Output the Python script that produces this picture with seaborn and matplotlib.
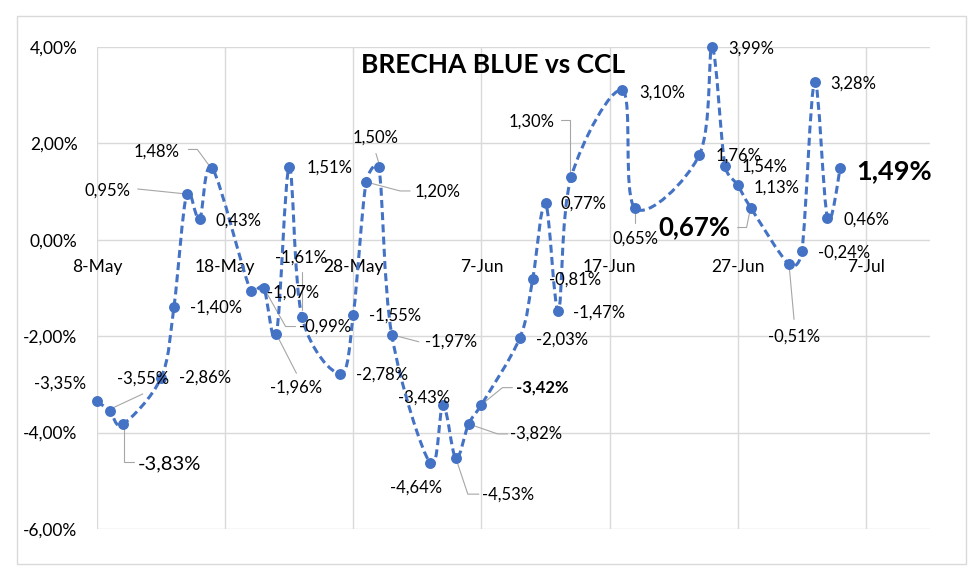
import pandas as pd
import numpy as np
import matplotlib.pyplot as plt
import matplotlib.dates as mdates
import seaborn as sns
from matplotlib.path import Path
from matplotlib.patches import PathPatch, Rectangle
from matplotlib.ticker import FuncFormatter

# fechas habiles (2019) y brecha blue vs CCL en %
fechas = ["2019-05-08", "2019-05-09", "2019-05-10", "2019-05-13", "2019-05-14",
          "2019-05-15", "2019-05-16", "2019-05-17", "2019-05-20", "2019-05-21",
          "2019-05-22", "2019-05-23", "2019-05-24", "2019-05-27", "2019-05-28",
          "2019-05-29", "2019-05-30", "2019-05-31", "2019-06-03", "2019-06-04",
          "2019-06-05", "2019-06-06", "2019-06-07", "2019-06-10", "2019-06-11",
          "2019-06-12", "2019-06-13", "2019-06-14", "2019-06-18", "2019-06-19",
          "2019-06-24", "2019-06-25", "2019-06-26", "2019-06-27", "2019-06-28",
          "2019-07-01", "2019-07-02", "2019-07-03", "2019-07-04", "2019-07-05"]
brecha = [-3.35, -3.55, -3.83, -2.86, -1.40, 0.95, 0.43, 1.48, -1.07, -0.99,
          -1.96, 1.51, -1.61, -2.78, -1.55, 1.20, 1.50, -1.97, -4.64, -3.43,
          -4.53, -3.82, -3.42, -2.03, -0.81, 0.77, -1.47, 1.30, 3.10, 0.65,
          1.76, 3.99, 1.54, 1.13, 0.67, -0.51, -0.24, 3.28, 0.46, 1.49]
xticks = ["2019-05-08", "2019-05-18", "2019-05-28", "2019-06-07",
          "2019-06-17", "2019-06-27", "2019-07-07"]
yticks = [-6, -4, -2, 0, 2, 4]
titulo = "BRECHA BLUE vs CCL"

# posicion de etiquetas (pixeles respecto del punto, y hacia abajo)
lab_off = [(-37, -18), (33, -32), (47, 39), (44, 0), (42, 0), (-79, -3), (39, 2),
           (-56, -17), (42, 1), (61, 39), (20, 53), (40, 1), (-1, -60), (42, 1),
           (42, 1), (71, 10), (-3, -30), (59, 7), (-14, 24), (-19, -8), (52, 36),
           (67, 10), (61, -17), (42, 2), (42, 1), (38, 1), (41, 2), (-40, -56),
           (40, 2), (0, 30), (39, 1), (39, 1), (40, 1), (39, 2), (-56, 20),
           (5, 72), (42, 1), (39, 2), (39, 2), (54, 3)]
leaders = {1: [(3, -3), (33, -17)],
           2: [(1, 1), (1, 38), (11, 38)],
           5: [(-49, -5), (0, 0)],
           7: [(-24, -19), (-15, -19), (-1, 0)],
           9: [(0, 0), (22, 39), (32, 39)],
           10: [(0, 0), (20, 39)],
           12: [(0, -45), (0, -7)],
           15: [(0, 0), (34, 9), (44, 9)],
           16: [(-3, -14), (0, -4)],
           17: [(0, 0), (27, 7)],
           20: [(0, 0), (12, 36), (23, 36)],
           21: [(0, 0), (29, 10), (39, 10)],
           22: [(0, 0), (21, -17), (31, -17)],
           27: [(-10, -57), (-1, -57), (-1, -1)],
           29: [(0, 4), (0, 15)],
           34: [(0, 0), (-4, 20), (-13, 20)],
           35: [(0, 0), (5, 55)]}
lab_style = {2: (14.5, "normal"), 22: (12, "bold"),
             34: (18.5, "bold"), 39: (19.5, "bold")}

sns.set_style("white")
plt.rcParams["font.family"] = ["Lato", "DejaVu Sans"]
azul = "#4472C4"
gris = "#d9d9d9"

df = pd.DataFrame({"fecha": pd.to_datetime(fechas), "brecha": brecha})

fig = plt.figure(figsize=(9.8, 5.81), dpi=100)
ax = fig.add_axes([97 / 980, 1 - 529 / 581, (930 - 97) / 980, (529 - 47) / 581])
fig.patches.append(Rectangle((17 / 980, 1 - 564 / 581), (966 - 17) / 980, (564 - 16) / 581,
                             transform=fig.transFigure, fill=False, edgecolor=gris, lw=1))

sns.scatterplot(data=df, x="fecha", y="brecha", ax=ax, color=azul, s=62,
                edgecolor=azul, linewidth=0, zorder=4, legend=False, clip_on=False)

ax.set_xlim(pd.Timestamp("2019-05-08"), pd.Timestamp("2019-07-12"))
ax.set_ylim(-6, 4)
ax.set_xticks(pd.to_datetime(xticks))
ax.xaxis.set_major_formatter(mdates.DateFormatter("%-d-%b"))
ax.set_yticks(yticks)
ax.yaxis.set_major_formatter(FuncFormatter(lambda v, p: f"{v:.2f}%".replace(".", ",")))
ax.grid(True, color=gris, lw=1)
for s in ax.spines.values():
    s.set_visible(False)
ax.spines["bottom"].set_position(("data", 0))
ax.tick_params(axis="x", length=0, pad=14, labelsize=12.5, labelcolor="black")
ax.tick_params(axis="y", length=0, pad=14, labelsize=12.5, labelcolor="black")
ax.set_xlabel("")
ax.set_ylabel("")

# linea suavizada tipo Excel (bezier, manijas limitadas a media distancia)
pts = ax.transData.transform(np.column_stack([mdates.date2num(df.fecha), df.brecha]))
n = len(pts)
verts = [pts[0]]
codes = [Path.MOVETO]
for i in range(n - 1):
    p0, p1 = pts[max(i - 1, 0)], pts[i]
    p2, p3 = pts[i + 1], pts[min(i + 2, n - 1)]
    seg = np.hypot(*(p2 - p1))
    t1, t2 = p2 - p0, p3 - p1
    l1 = min(np.hypot(*t1) / 6, seg / 2)
    l2 = min(np.hypot(*t2) / 6, seg / 2)
    c1 = p1 + t1 / np.hypot(*t1) * l1
    c2 = p2 - t2 / np.hypot(*t2) * l2
    verts += [c1, c2, p2]
    codes += [Path.CURVE4] * 3
verts = ax.transData.inverted().transform(np.array(verts))
ax.add_patch(PathPatch(Path(verts, codes), fill=False, edgecolor=azul, lw=2.2,
                       linestyle=(0, (2.6, 1.4)), capstyle="butt", zorder=3,
                       clip_on=False))

# etiquetas de datos
inv = ax.transData.inverted()
for i, (x, y) in enumerate(pts):
    txt = f"{brecha[i]:.2f}%".replace(".", ",")
    size, weight = lab_style.get(i, (12, "normal"))
    dx, dy = lab_off[i]
    lx, ly = inv.transform((x + dx, y - dy))
    ax.text(lx, ly, txt, ha="center", va="center", fontsize=size,
            fontweight=weight, color="black", zorder=5)
    if i in leaders:
        lp = inv.transform([(x + a, y - b) for a, b in leaders[i]])
        ax.plot(lp[:, 0], lp[:, 1], color="#a6a6a6", lw=0.8, zorder=2)

fig.text(493 / 980, 1 - 65 / 581, titulo, ha="center", va="center",
         fontsize=19, fontweight="bold", color="black")

plt.savefig("out.png", dpi=100)
